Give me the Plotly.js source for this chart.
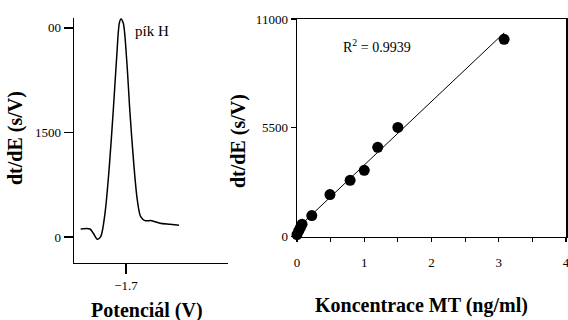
<!DOCTYPE html>
<html>
<head>
<meta charset="utf-8">
<script src="https://cdn.plot.ly/plotly-3.0.1.min.js"></script>
<style>html,body{margin:0;padding:0;background:#fff;}#chart{width:568px;height:320px;}</style>
</head>
<body>
<div id="chart"></div>
<script>
// Left panel: voltammogram (potential in V, dt/dE in s/V)
const potential = [-1.7906, -1.772, -1.7654, -1.7574, -1.7506, -1.742, -1.7334, -1.7254, -1.7186, -1.7134, -1.71, -1.7054, -1.6986, -1.692, -1.684, -1.6774, -1.6706, -1.662, -1.6486, -1.632, -1.612, -1.594];
const dtdE = [115, 115, 53, -33, 4, 340, 1009, 1822, 2587, 3066, 3128, 3066, 2540, 1775, 1009, 531, 291, 234, 234, 197, 182, 168];
const leftYTickVals = [0, 1500, 3000];
const leftYTickText = ['0', '1500', '00'];
const leftXTickVals = [-1.7];
const leftXTickText = ['\u22121.7'];

// Right panel: calibration
const concentration = [0, 0.025, 0.05, 0.075, 0.22, 0.49, 0.79, 1.0, 1.2, 1.5, 3.08];
const signal = [100, 280, 450, 620, 1060, 2120, 2840, 3345, 4510, 5515, 9975];
const fitX = [0, 3.08];
const fitY = [400, 10300];
const rightYTickVals = [0, 5500, 11000];
const rightYTickText = ['0', '5500', '11000'];
const rightXTickVals = [0, 1, 2, 3, 4];
const rightXTickText = ['0', '1', '2', '3', '4'];

const W = 568, H = 320;
const px = v => v / W;
const py = v => 1 - v / H;
const serif = 'Liberation Serif';

const traces = [
  {x: potential, y: dtdE, xaxis: 'x', yaxis: 'y', mode: 'lines',
   line: {color: '#000', width: 1.5, shape: 'spline', smoothing: 0.8}, hoverinfo: 'skip'},
  {x: fitX, y: fitY, xaxis: 'x2', yaxis: 'y2', mode: 'lines',
   line: {color: '#000', width: 1}, hoverinfo: 'skip'},
  {x: concentration, y: signal, xaxis: 'x2', yaxis: 'y2', mode: 'markers',
   marker: {color: '#000', size: 11}, cliponaxis: false, hoverinfo: 'skip'}
];

const layout = {
  width: W, height: H,
  margin: {l: 0, r: 0, t: 0, b: 0},
  paper_bgcolor: '#fff', plot_bgcolor: '#fff',
  showlegend: false,
  font: {family: serif, color: '#000', size: 13},
  xaxis: {domain: [px(74), px(228)], anchor: 'y', range: [-1.804, -1.496],
    showline: true, linecolor: '#000', linewidth: 1.5, zeroline: false, showgrid: false,
    ticks: 'outside', ticklen: 10, tickwidth: 1.5, tickcolor: '#000',
    tickvals: leftXTickVals, ticktext: leftXTickText, tickfont: {size: 13, family: serif, color: '#000'},
    ticklabelstandoff: 0},
  yaxis: {domain: [py(262.7), py(18)], anchor: 'x', range: [-369, 3142],
    showline: true, linecolor: '#000', linewidth: 1.5, zeroline: false, showgrid: false,
    ticks: 'outside', ticklen: 9, tickwidth: 1.5, tickcolor: '#000',
    tickvals: leftYTickVals, ticktext: leftYTickText, tickfont: {size: 13, family: serif, color: '#000'}},
  xaxis2: {domain: [px(297), px(566)], anchor: 'y2', range: [0, 4],
    showline: true, mirror: true, linecolor: '#000', linewidth: 1.5, zeroline: false, showgrid: false,
    ticks: 'outside', ticklen: 4, tickwidth: 1.2, tickcolor: '#000',
    tickvals: rightXTickVals, ticktext: rightXTickText, tickfont: {size: 13, family: serif, color: '#000'},
    minor: {dtick: 0.5, ticks: 'outside', ticklen: 4, tickwidth: 1.2, tickcolor: '#000', showgrid: false},
    ticklabelstandoff: 9, ticklabeloverflow: 'allow'},
  yaxis2: {domain: [py(236.5), py(19)], anchor: 'x2', range: [0, 11000],
    showline: true, mirror: true, linecolor: '#000', linewidth: 1.5, zeroline: false, showgrid: false,
    ticks: 'outside', ticklen: 5, tickwidth: 1.2, tickcolor: '#000',
    tickvals: rightYTickVals, ticktext: rightYTickText, tickfont: {size: 13, family: serif, color: '#000'},
    ticklabeloverflow: 'allow'},
  annotations: [
    {text: '<b>dt/dE (s/V)</b>', xref: 'paper', yref: 'paper', x: px(15), y: py(138),
     xanchor: 'center', yanchor: 'middle', textangle: -90, showarrow: false, font: {size: 20, family: serif}},
    {text: '<b>Potenciál (V)</b>', xref: 'paper', yref: 'paper', x: px(146.5), y: py(310),
     xanchor: 'center', yanchor: 'middle', showarrow: false, font: {size: 20, family: serif}},
    {text: '<b>dt/dE (s/V)</b>', xref: 'paper', yref: 'paper', x: px(238), y: py(141),
     xanchor: 'center', yanchor: 'middle', textangle: -90, showarrow: false, font: {size: 20, family: serif}},
    {text: '<b>Koncentrace MT (ng/ml)</b>', xref: 'paper', yref: 'paper', x: px(421.5), y: py(305),
     xanchor: 'center', yanchor: 'middle', showarrow: false, font: {size: 20, family: serif}},
    {text: 'R<sup>2</sup> = 0.9939', xref: 'paper', yref: 'paper', x: px(341), y: py(46),
     xanchor: 'left', yanchor: 'middle', showarrow: false, font: {size: 14, family: serif}},
    {text: 'pík H', xref: 'paper', yref: 'paper', x: px(133), y: py(31),
     xanchor: 'left', yanchor: 'middle', showarrow: false, font: {size: 15, family: serif}}
  ]
};

Plotly.newPlot('chart', traces, layout, {staticPlot: true, displayModeBar: false});
</script>
</body>
</html>
